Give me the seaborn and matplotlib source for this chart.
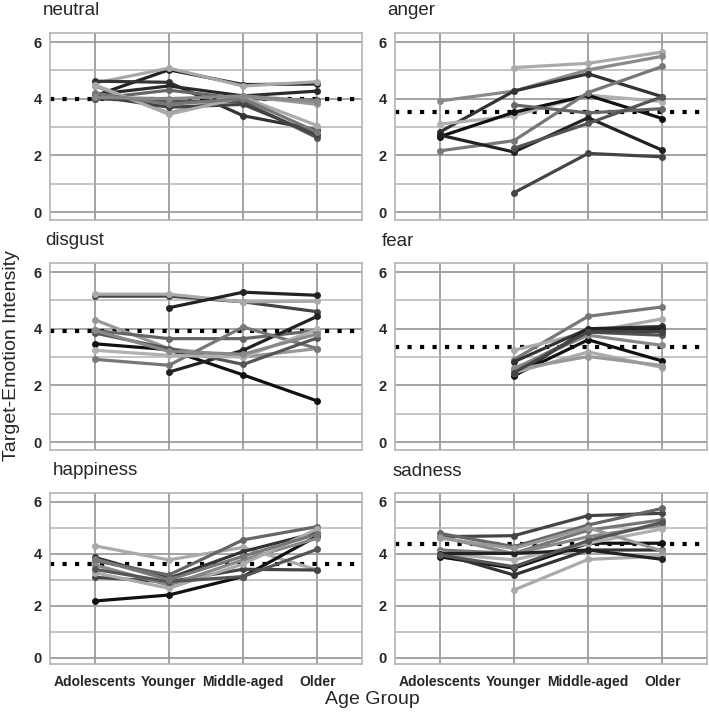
import numpy as np
import pandas as pd
import matplotlib
matplotlib.use('Agg')
import matplotlib.pyplot as plt
import seaborn as sns

nan = np.nan

# age groups on the x axis
groups = ['Adolescents', 'Younger', 'Middle-aged', 'Older']

# one row per study: values for Adolescents, Younger, Middle-aged, Older
neutral = [
    [4.10, 5.02, 4.50, 4.52],
    [4.55, 5.08, 4.45, 4.60],
    [4.62, 4.58, 3.40, 2.90],
    [4.15, 4.45, 4.10, 4.27],
    [4.00, 4.30, 4.00, 3.95],
    [4.45, 3.50, 4.10, 3.80],
    [4.00, 3.90, 3.90, 2.62],
    [4.10, 3.70, 3.80, 2.72],
    [4.50, 3.45, 4.05, 3.05],
    [4.20, 3.80, 4.00, 2.82],
    [4.05, 4.00, 4.10, 3.90],
]
neutral_col = ['#222222', '#a8a8a8', '#333333', '#2a2a2a', '#666666', '#999999',
               '#555555', '#444444', '#aaaaaa', '#777777', '#888888']

anger = [
    [nan, 5.10, 5.25, 5.65],
    [3.92, 4.27, 5.02, 5.50],
    [2.82, 4.27, 4.88, 4.07],
    [3.10, 3.40, 4.13, 3.90],
    [2.66, 3.52, 4.12, 3.30],
    [2.16, 2.52, 4.22, 5.14],
    [nan, 3.78, 3.50, 3.65],
    [2.72, 2.12, 3.33, 2.18],
    [nan, 2.25, 3.13, 4.07],
    [nan, 0.68, 2.07, 1.95],
]
anger_col = ['#aaaaaa', '#8a8a8a', '#333333', '#b0b0b0', '#111111', '#777777',
             '#666666', '#222222', '#555555', '#444444']

disgust = [
    [5.15, 5.15, 4.95, 4.60],
    [5.22, 5.22, 4.95, 4.97],
    [nan, 4.74, 5.29, 5.18],
    [3.47, 3.26, 2.37, 1.45],
    [4.32, 3.30, 3.00, 3.30],
    [3.94, 3.65, 3.65, 3.94],
    [nan, 2.47, 3.24, 4.44],
    [2.92, 2.71, 4.06, 3.30],
    [3.85, 3.30, 2.74, 3.68],
    [3.24, 3.06, 3.00, 3.98],
    [3.94, 3.20, 3.10, 3.82],
]
disgust_col = ['#444444', '#aaaaaa', '#222222', '#111111', '#999999', '#666666',
               '#222222', '#777777', '#555555', '#b0b0b0', '#888888']

fear = [
    [nan, 2.91, 4.44, 4.77],
    [nan, 3.24, 3.88, 4.35],
    [nan, 2.83, 4.00, 4.08],
    [nan, 2.32, 4.00, 4.00],
    [nan, 2.55, 3.88, 3.77],
    [nan, 2.35, 3.61, 2.86],
    [nan, 2.44, 3.18, 2.63],
    [nan, 2.55, 3.02, 2.70],
    [nan, 2.60, 3.77, 3.41],
    [nan, 2.45, 3.90, 3.90],
]
fear_col = ['#777777', '#aaaaaa', '#333333', '#222222', '#555555', '#111111',
            '#aaaaaa', '#999999', '#888888', '#444444']

happiness = [
    [4.30, 3.76, 4.24, 3.37],
    [2.18, 2.41, 3.12, 4.68],
    [3.86, 3.05, 4.08, 4.81],
    [3.73, 3.18, 4.53, 5.04],
    [3.09, 2.92, 3.40, 3.37],
    [3.57, 2.79, 3.76, 4.59],
    [3.27, 2.67, 3.60, 4.95],
    [3.40, 2.92, 3.12, 4.17],
    [3.80, 3.00, 3.90, 4.75],
]
happiness_col = ['#aaaaaa', '#111111', '#333333', '#666666', '#444444', '#888888',
                 '#aaaaaa', '#555555', '#777777']

sadness = [
    [4.65, 4.69, 5.46, 5.55],
    [4.78, 4.27, 5.10, 5.74],
    [3.88, 3.44, 4.40, 4.40],
    [4.01, 3.18, 4.14, 4.14],
    [nan, 2.60, 3.78, 3.90],
    [4.14, 4.01, 4.90, 5.30],
    [4.65, 4.00, 4.65, 5.10],
    [4.01, 3.76, 4.40, 4.95],
    [4.00, 4.01, 4.14, 3.78],
    [4.60, 4.20, 5.00, 4.10],
    [3.95, 3.50, 4.50, 5.20],
]
sadness_col = ['#444444', '#666666', '#111111', '#333333', '#aaaaaa', '#777777',
               '#888888', '#b0b0b0', '#222222', '#999999', '#555555']

# dotted reference level per emotion
baseline = {'neutral': 4.0, 'anger': 3.52, 'disgust': 3.91, 'fear': 3.34,
            'happiness': 3.60, 'sadness': 4.38}

panels = [('neutral', neutral, neutral_col), ('anger', anger, anger_col),
          ('disgust', disgust, disgust_col), ('fear', fear, fear_col),
          ('happiness', happiness, happiness_col), ('sadness', sadness, sadness_col)]

sns.set_style('white')
plt.rcParams['font.family'] = ['Liberation Sans', 'DejaVu Sans']

W, H = 709, 716
fig = plt.figure(figsize=(W / 100, H / 100), dpi=100)

# panel boxes in pixels (left, top, right, bottom)
col_x = [(50, 362), (395, 707)]
row_y = [(33, 220), (263, 450), (493, 664)]
title_pos = [(43, 15), (387, 15), (45, 245), (382, 246), (53, 475), (393, 476)]

grid_col = '#9c9c9c'

for k, (name, values, cols) in enumerate(panels):
    r, c = divmod(k, 2)
    x0, x1 = col_x[c]
    y0, y1 = row_y[r]
    ax = fig.add_axes([x0 / W, 1 - y1 / H, (x1 - x0) / W, (y1 - y0) / H])

    rows = []
    for i, series in enumerate(values):
        for j, v in enumerate(series):
            rows.append({'study': f's{i}', 'x': j, 'y': v})
    df = pd.DataFrame(rows).dropna()

    ax.axhline(baseline[name], color='black', lw=3, ls=(0, (1, 2)), zorder=1.5)
    sns.lineplot(data=df, x='x', y='y', hue='study', palette=cols,
                 hue_order=[f's{i}' for i in range(len(values))],
                 estimator=None, sort=False, marker='o', markersize=5,
                 markeredgewidth=0, linewidth=2.3, legend=False, ax=ax, zorder=3)

    if r < 2:
        ax.set_ylim(-0.28, 6.32)
    else:
        ax.set_ylim(-0.24, 6.33)
    ax.set_xlim(-0.6, 3.6)
    ax.set_yticks([0, 2, 4, 6])
    ax.set_yticks([1, 3, 5], minor=True)
    ax.set_xticks(range(len(groups)))
    ax.grid(True, which='major', color=grid_col, lw=1.3, zorder=0)
    ax.grid(True, which='minor', axis='y', color='#b4b4b4', lw=1.1, zorder=0)
    ax.set_axisbelow(True)
    ax.set_xlabel('')
    ax.set_ylabel('')
    ax.tick_params(axis='both', which='major', length=4, width=1.2, color=grid_col,
                   labelsize=10.5, pad=2)
    ax.tick_params(axis='y', which='minor', length=0)
    for lab in ax.get_yticklabels():
        lab.set_fontweight('bold')
    if r == 2:
        ax.set_xticklabels(groups, fontweight='bold', fontsize=10)
        ax.tick_params(axis='x', pad=4)
    else:
        ax.set_xticklabels([])
    for sp in ax.spines.values():
        sp.set_visible(True)
        sp.set_color('#b4b4b4')
        sp.set_linewidth(1.2)

    tx, ty = title_pos[k]
    fig.text(tx / W, 1 - ty / H, name, fontsize=13.5, ha='left', va='baseline')

fig.text(12 / W, 1 - 356 / H, 'Target-Emotion Intensity', rotation=90,
         fontsize=14, ha='center', va='center')
fig.text(372 / W, 1 - 700 / H, 'Age Group', fontsize=14, ha='center', va='center')

fig.savefig('out.png', dpi=100)
